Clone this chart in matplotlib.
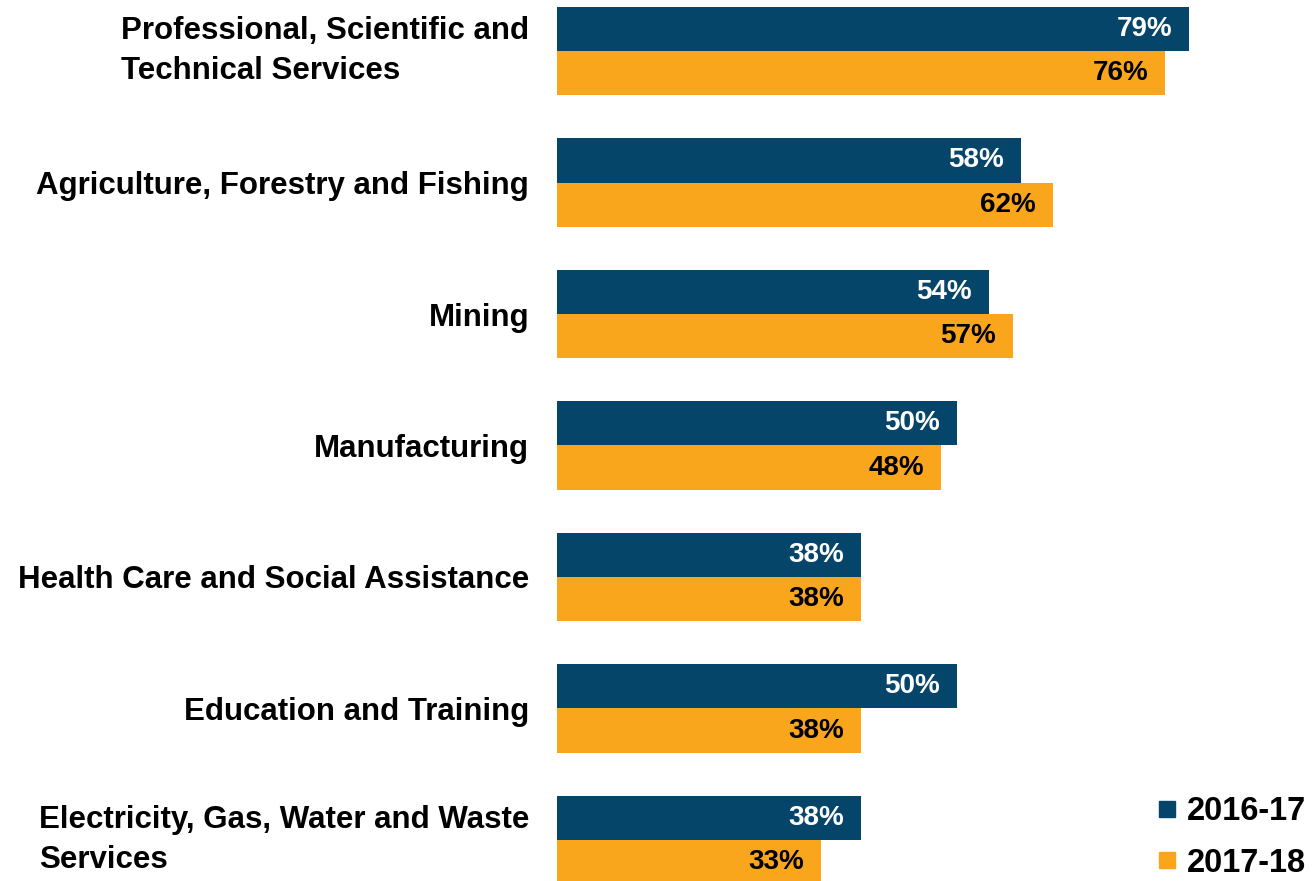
import numpy as np
import matplotlib.pyplot as plt
from matplotlib.lines import Line2D

plt.rcParams['font.family'] = ['Liberation Sans', 'DejaVu Sans']
plt.rcParams['font.weight'] = 'bold'

# share of businesses by industry, two financial years
industries = [
    "Professional, Scientific and\nTechnical Services",
    "Agriculture, Forestry and Fishing",
    "Mining",
    "Manufacturing",
    "Health Care and Social Assistance",
    "Education and Training",
    "Electricity, Gas, Water and Waste\nServices",
]
years = ["2016-17", "2017-18"]
pct_2016_17 = [79, 58, 54, 50, 38, 50, 38]
pct_2017_18 = [76, 62, 57, 48, 38, 38, 33]

navy = "#06456A"
orange = "#FAA61C"

fig = plt.figure(figsize=(13.14, 8.81), dpi=100)
ax = fig.add_axes([557 / 1314, 0, 1 - 557 / 1314, 1])

y = np.arange(len(industries))
h = 0.335
b1 = ax.barh(y - h / 2, pct_2016_17, height=h, color=navy)
b2 = ax.barh(y + h / 2, pct_2017_18, height=h, color=orange)

for bars, vals, col in [(b1, pct_2016_17, "white"), (b2, pct_2017_18, "black")]:
    for bar, v in zip(bars, vals):
        ax.text(v - 2.1, bar.get_y() + bar.get_height() / 2, f"{v}%",
                ha="right", va="center", color=col, fontsize=20,
                fontweight="bold")

ax.set_xlim(0, 757 / 8)
ax.set_ylim(6.312, -0.388)
ax.set_yticks(y)
ax.set_yticklabels(industries, fontsize=22.5, fontweight="bold",
                   linespacing=1.4)
for lbl in ax.get_yticklabels():
    lbl.set_multialignment("left")
    if "\n" in lbl.get_text():
        lbl.set_verticalalignment("center")
ax.tick_params(axis="y", length=0, pad=20)
ax.set_xticks([])
for s in ax.spines.values():
    s.set_visible(False)

handles = [Line2D([], [], ls="none", marker="s", markersize=11, color=c)
           for c in (navy, orange)]
fig.legend(handles, years, loc="lower right", bbox_to_anchor=(1.004, -0.012),
           frameon=False, handlelength=0.6, handletextpad=0.3,
           labelspacing=0.62, borderaxespad=0.0,
           prop={"weight": "bold", "size": 23.5})

fig.savefig("out.png", dpi=100)
